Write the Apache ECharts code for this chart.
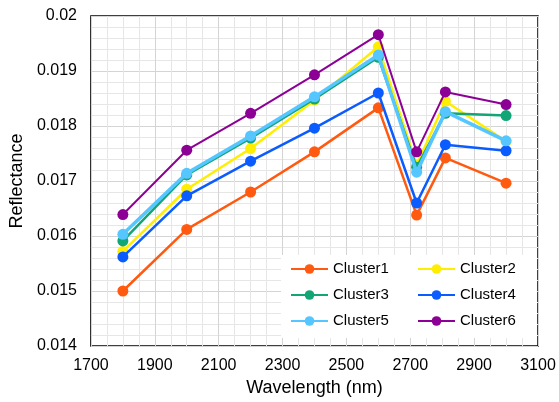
<!DOCTYPE html>
<html>
<head>
<meta charset="utf-8">
<script src="https://cdn.jsdelivr.net/npm/echarts@6/dist/echarts.min.js"></script>
<style>
  html, body { margin: 0; padding: 0; background: #fff; }
  #chart { width: 559px; height: 402px; }
</style>
</head>
<body>
<div id="chart"></div>
<script>
// wavelengths (nm)
const wavelengths = [1800, 2000, 2200, 2400, 2600, 2720, 2810, 3000];

// reflectance per cluster
const cluster1 = [0.01500, 0.01612, 0.01680, 0.01753, 0.01833, 0.01638, 0.01742, 0.01696];
const cluster2 = [0.01572, 0.01685, 0.01759, 0.01847, 0.01944, 0.01729, 0.01845, 0.01772];
const cluster3 = [0.01591, 0.01711, 0.01778, 0.01849, 0.01925, 0.01725, 0.01823, 0.01819];
const cluster4 = [0.01562, 0.01673, 0.01736, 0.01796, 0.01860, 0.01660, 0.01766, 0.01755];
const cluster5 = [0.01603, 0.01714, 0.01782, 0.01853, 0.01929, 0.01716, 0.01826, 0.01773];
const cluster6 = [0.01639, 0.01756, 0.01823, 0.01893, 0.01966, 0.01753, 0.01862, 0.01839];

const seriesNames = ["Cluster1", "Cluster2", "Cluster3", "Cluster4", "Cluster5", "Cluster6"];
const seriesValues = [cluster1, cluster2, cluster3, cluster4, cluster5, cluster6];
const colors = ["#FF5A10", "#FFEE00", "#12A676", "#0B5CFF", "#55C6FF", "#8C0096"];
const widths = [2.5, 2.5, 2.5, 2.5, 3.5, 2];

const font = "Liberation Sans, Arial, sans-serif";

const chart = echarts.init(document.getElementById("chart"));

const legendText = { fontFamily: font, fontSize: 15, color: "#000", lineHeight: 16 };

const option = {
  animation: false,
  grid: {
    left: 88, right: 21, top: 16, bottom: 56,
    show: true, borderColor: "#000", borderWidth: 1.5, backgroundColor: "transparent"
  },
  xAxis: {
    type: "value",
    min: 1700, max: 3100, interval: 200,
    name: "Wavelength (nm)",
    nameLocation: "middle",
    nameGap: 33,
    nameTextStyle: { fontFamily: font, fontSize: 18, color: "#000" },
    axisLine: { show: false },
    axisTick: { show: false },
    axisLabel: { fontFamily: font, fontSize: 16, color: "#000", margin: 12, formatter: (v) => String(v) },
    splitLine: { lineStyle: { color: "#d4d4d4", width: 1 } },
    minorTick: { show: false, splitNumber: 4 },
    minorSplitLine: { show: true, lineStyle: { color: "#e6e6e6", width: 1 } }
  },
  yAxis: {
    type: "value",
    min: 0.014, max: 0.02, interval: 0.001,
    name: "Reflectance",
    nameLocation: "middle",
    nameGap: 60,
    nameTextStyle: { fontFamily: font, fontSize: 18, color: "#000" },
    axisLine: { show: false },
    axisTick: { show: false },
    axisLabel: {
      fontFamily: font, fontSize: 16, color: "#000", margin: 14,
      formatter: (v) => String(parseFloat(v.toFixed(4)))
    },
    splitLine: { lineStyle: { color: "#d4d4d4", width: 1 } },
    minorTick: { show: false, splitNumber: 5 },
    minorSplitLine: { show: true, lineStyle: { color: "#e6e6e6", width: 1 } }
  },
  // white box behind the legend
  graphic: [{
    type: "rect",
    z: 3,
    shape: { x: 281, y: 255, width: 256, height: 83 },
    style: { fill: "#fff" }
  }],
  legend: [
    {
      data: ["Cluster1", "Cluster3", "Cluster5"],
      orient: "vertical",
      left: 290, top: 261, padding: 0,
      itemWidth: 37, itemHeight: 12, itemGap: 10,
      textStyle: legendText, z: 5
    },
    {
      data: ["Cluster2", "Cluster4", "Cluster6"],
      orient: "vertical",
      left: 417, top: 261, padding: 0,
      itemWidth: 37, itemHeight: 12, itemGap: 10,
      textStyle: legendText, z: 5
    }
  ],
  series: seriesNames.map((name, i) => ({
    name: name,
    type: "line",
    data: wavelengths.map((w, j) => [w, seriesValues[i][j]]),
    symbol: "circle",
    symbolSize: 11,
    showAllSymbol: true,
    z: 2 + i * 0.1,
    lineStyle: { color: colors[i], width: widths[i] },
    itemStyle: { color: colors[i] }
  }))
};

chart.setOption(option);
</script>
</body>
</html>
